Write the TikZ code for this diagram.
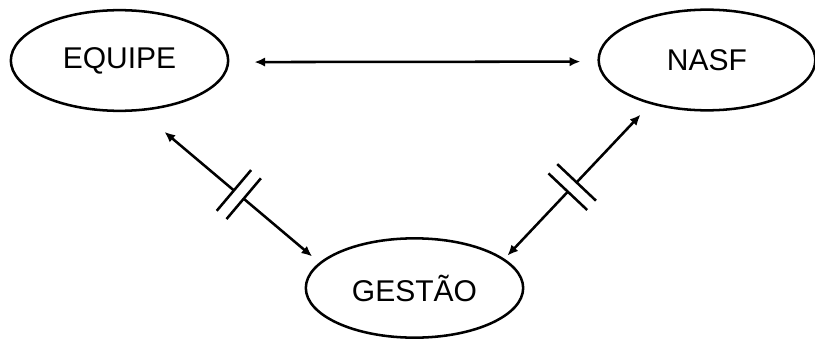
\documentclass[tikz,border=0pt]{standalone}
\usepackage{fontspec}
\setmainfont{Liberation Sans}
\usetikzlibrary{arrows.meta}
\usetikzlibrary{shapes.geometric}

\begin{document}
\begin{tikzpicture}[x=0.75pt,y=-0.75pt,line width=1.9pt,
  tip/.tip={Latex[length=8pt,width=7pt]},
  actor/.style={ellipse,draw=black,inner sep=0pt,font=\fontsize{22.5}{27}\selectfont},
  cut/.style={sloped,fill=white,inner sep=0pt,outer sep=0pt,minimum width=9.6pt,minimum height=40pt}]
\useasboundingbox (0,0) rectangle (815,339);
% the three partners
\node[actor,minimum width=163pt,minimum height=75.5pt] (equipe) at (119.5,60.5) {EQUIPE};
\node[actor,minimum width=162.5pt,minimum height=75.5pt] (nasf) at (707,60) {NASF};
\node[actor,minimum width=163pt,minimum height=74.5pt] (gestao) at (414.5,288) {GEST\~AO};
% links
\draw[tip-tip,shorten <=18.75pt,shorten >=12.75pt] ([yshift=-1.2pt]equipe.east) -- ([yshift=-1.2pt]nasf.west);
\draw[tip-tip,shorten <=24pt,shorten >=7pt] (equipe.-68) -- node[cut,pos=0.551] (barL) {} (gestao.165);
\draw[tip-tip,shorten <=10.8pt,shorten >=3.2pt] (nasf.218) -- node[cut,pos=0.536] (barR) {} (gestao.18);
% broken links
\foreach \b in {barL,barR} {
  \draw (\b.north west) -- (\b.south west) (\b.north east) -- (\b.south east);
}
\end{tikzpicture}
\end{document}
